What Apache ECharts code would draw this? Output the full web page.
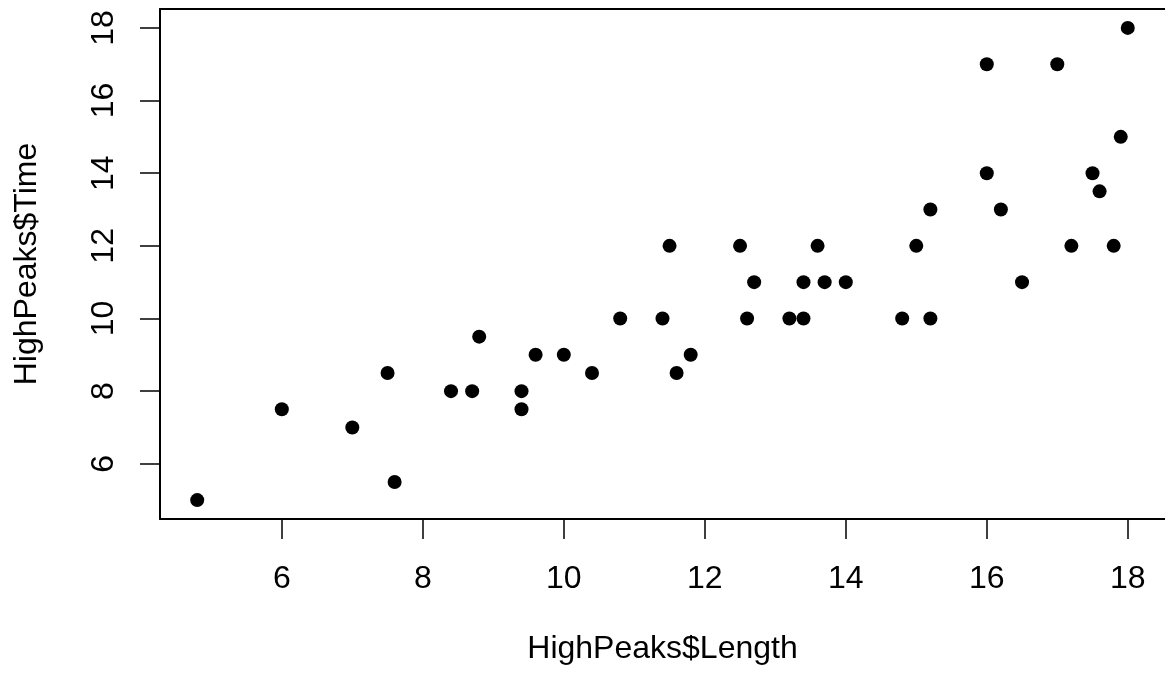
<!DOCTYPE html>
<html>
<head>
<meta charset="utf-8">
<script src="https://cdn.jsdelivr.net/npm/echarts@6/dist/echarts.min.js"></script>
<style>
html,body{margin:0;padding:0;background:#fff;}
#chart{width:1165px;height:673px;}
</style>
</head>
<body>
<div id="chart"></div>
<script>
// HighPeaks: Length (x) vs Time (y)
const lengthValues = [4.8, 6, 7, 7.5, 7.6, 8.4, 8.7, 8.8, 9.4, 9.4, 9.6,
  10, 10.4, 10.8, 11.4, 11.5, 11.6, 11.8, 12.5, 12.6, 12.7, 13.2, 13.4, 13.4, 13.6, 13.7, 14,
  14.8, 15.2, 15, 15.2, 16, 16, 16.2, 16.5, 17, 17.2, 17.5, 17.6, 17.8, 17.9, 18];
const timeValues = [5, 7.5, 7, 8.5, 5.5, 8, 8, 9.5, 8, 7.5, 9,
  9, 8.5, 10, 10, 12, 8.5, 9, 12, 10, 11, 10, 10, 11, 12, 11, 11,
  10, 10, 12, 13, 17, 14, 13, 11, 17, 12, 14, 13.5, 12, 15, 18];
const xTicks = [6, 8, 10, 12, 14, 16, 18];
const yTicks = [6, 8, 10, 12, 14, 16, 18];
const xTitle = 'HighPeaks$Length';
const yTitle = 'HighPeaks$Time';

function rRange(arr) {
  const lo = Math.min(...arr), hi = Math.max(...arr);
  const pad = 0.04 * (hi - lo);
  return [lo - pad, hi + pad];
}
const xr = rRange(lengthValues);
const yr = rRange(timeValues);
const points = lengthValues.map((v, i) => [v, timeValues[i]]);

const font = '"Liberation Sans", Arial, Helvetica, sans-serif';
const FS = 32;
const lineStyle = {color: '#000', width: 2};
const chart = echarts.init(document.getElementById('chart'), null, {renderer: 'canvas'});
chart.setOption({
  animation: false,
  backgroundColor: '#ffffff',
  grid: {left: 160, top: 9, width: 1010, height: 510, containLabel: false},
  xAxis: [{
    type: 'value', min: xr[0], max: xr[1], position: 'bottom',
    name: xTitle, nameLocation: 'middle', nameGap: 114,
    nameTextStyle: {fontFamily: font, fontSize: FS, color: '#000'},
    axisLine: {show: true, onZero: false, lineStyle: lineStyle},
    splitLine: {show: false},
    axisTick: {show: true, inside: false, length: 20, customValues: xTicks,
      lineStyle: {color: '#000', width: 1.5}},
    axisLabel: {show: true, customValues: xTicks, margin: 44,
      fontFamily: font, fontSize: FS, color: '#000'}
  }, {
    type: 'value', min: xr[0], max: xr[1], position: 'top',
    axisLine: {show: true, onZero: false, lineStyle: lineStyle},
    axisTick: {show: false}, axisLabel: {show: false}, splitLine: {show: false}
  }],
  yAxis: {
    type: 'value', min: yr[0], max: yr[1],
    name: yTitle, nameLocation: 'middle', nameGap: 117, nameRotate: 90,
    nameTextStyle: {fontFamily: font, fontSize: FS, color: '#000'},
    axisLine: {show: true, onZero: false, lineStyle: lineStyle},
    splitLine: {show: false},
    axisTick: {show: true, inside: false, length: 20, customValues: yTicks,
      lineStyle: {color: '#000', width: 1.5}},
    axisLabel: {show: true, customValues: yTicks, margin: 40, rotate: 90,
      fontFamily: font, fontSize: FS, color: '#000'}
  },
  series: [{
    type: 'scatter',
    xAxisIndex: 0,
    data: points,
    symbol: 'circle',
    symbolSize: 14,
    itemStyle: {color: '#000', opacity: 1},
    silent: true
  }]
});
</script>
</body>
</html>
